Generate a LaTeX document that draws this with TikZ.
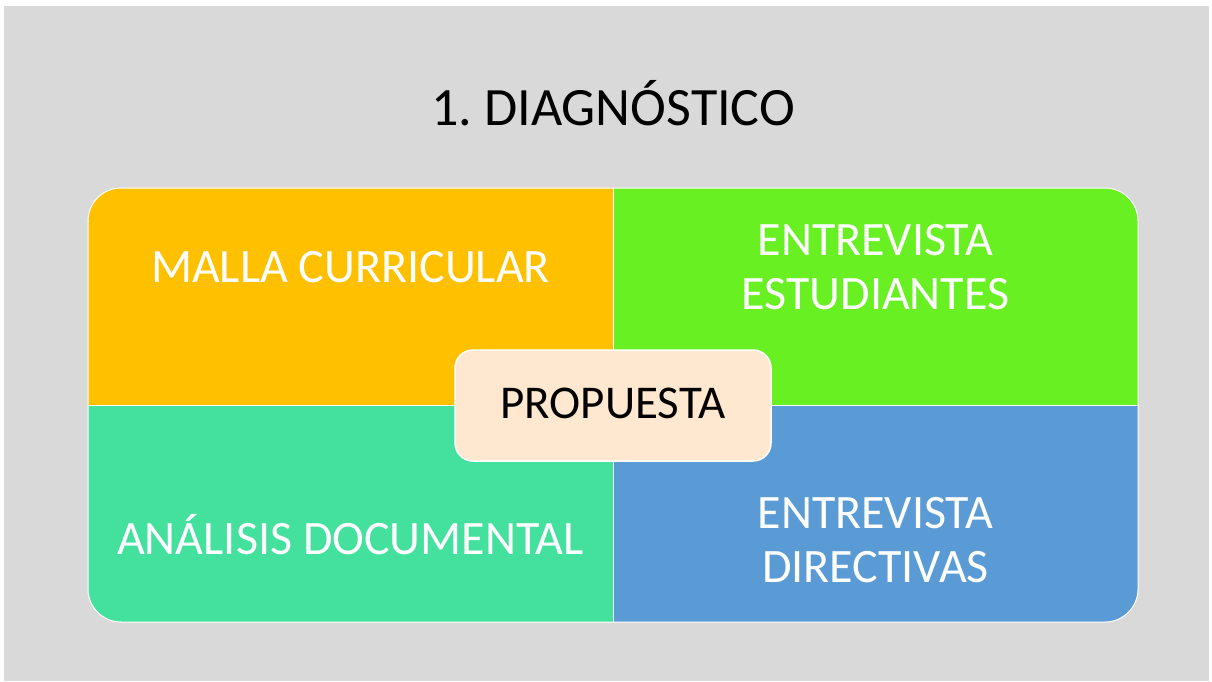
\documentclass[tikz,border=0pt]{standalone}
\usepackage{fontspec}
\setmainfont{Carlito}
\frenchspacing
\definecolor{bggray}{HTML}{D9D9D9}
\definecolor{qorange}{HTML}{FFC000}
\definecolor{qgreen}{HTML}{68F022}
\definecolor{qteal}{HTML}{43E19D}
\definecolor{qblue}{HTML}{5B9BD5}
\definecolor{qcenter}{HTML}{FFE8CF}
\tikzset{
  quadtext/.style={text=white, align=center, font=\fontsize{48}{54}\selectfont, inner sep=0pt},
  titletext/.style={text=black, font=\fontsize{54}{60}\selectfont, inner sep=0pt},
  centerbox/.style={fill=qcenter, draw=white, line width=1.5pt, rounded corners=18pt},
}
\begin{document}
\begin{tikzpicture}[x=1pt,y=-1pt]
\useasboundingbox (0,0) rectangle (1212,681);
\fill[white] (0,0) rectangle (1212,681);
\fill[bggray] (4,6) rectangle (1209,681);
\node[titletext, anchor=base] (title) at (613,125) {1. DIAGNÓSTICO};
\begin{scope}
  \clip[rounded corners=33pt] (88,188) rectangle (1138,622);
  \fill[qorange] (88,188) rectangle (613,405);
  \fill[qgreen] (613,188) rectangle (1138,405);
  \fill[qteal] (88,405) rectangle (613,622);
  \fill[qblue] (613,405) rectangle (1138,622);
  \draw[white, line width=1pt] (613,188) -- (613,622);
  \draw[white, line width=1pt] (88,405) -- (1138,405);
\end{scope}
\draw[white, line width=1pt, rounded corners=33pt] (88,188) rectangle (1138,622);
\node[quadtext, anchor=base] (malla) at (350.5,282) {MALLA CURRICULAR};
\node[quadtext] (estud) at (875.5,267) {ENTREVISTA\\ESTUDIANTES};
\node[quadtext, anchor=base] (analisis) at (350.5,554) {ANÁLISIS DOCUMENTAL};
\node[quadtext] (direct) at (875.5,540) {ENTREVISTA\\DIRECTIVAS};
\path[centerbox] (455,350) rectangle (771,461);
\node[text=black, font=\fontsize{47}{54}\selectfont, inner sep=0pt, anchor=base] (prop) at (613,418) {PROPUESTA};
\end{tikzpicture}
\end{document}
